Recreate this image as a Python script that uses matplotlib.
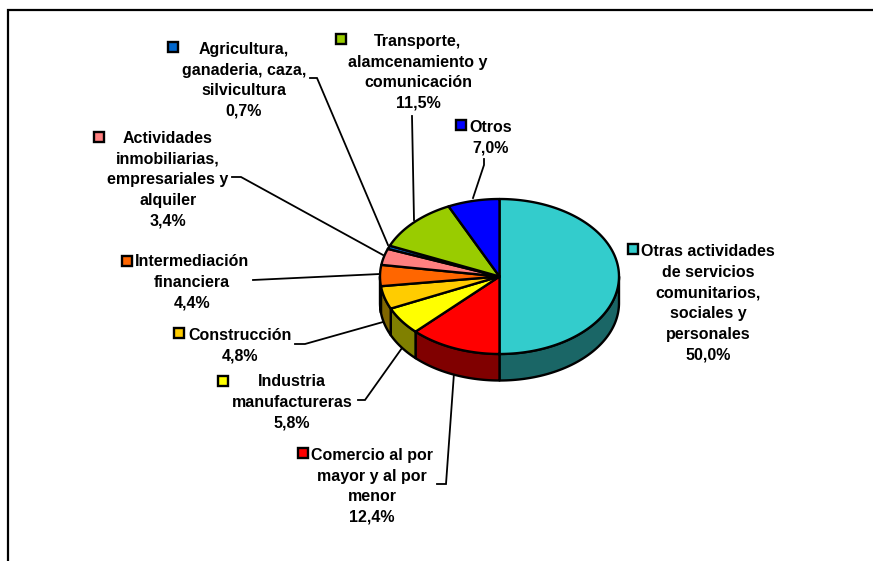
# Sektoren eines 3D-Kreisdiagramms (Pixel-Koordinaten wie in der Vorlage)
import numpy as np
import matplotlib
matplotlib.use('Agg')
import matplotlib.pyplot as plt

# Daten
labels = ['Otras actividades\nde servicios\ncomunitarios,\nsociales y\npersonales',
          'Comercio al por\nmayor y al por\nmenor',
          'Industria\nmanufactureras',
          'Construcción',
          'Intermediación\nfinanciera',
          'Actividades\ninmobiliarias,\nempresariales y\nalquiler',
          'Agricultura,\nganaderia, caza,\nsilvicultura',
          'Transporte,\nalamcenamiento y\ncomunicación',
          'Otros']
values = [50.0, 12.4, 5.8, 4.8, 4.4, 3.4, 0.7, 11.5, 7.0]
colors = ['#33CCCC', '#FF0000', '#FFFF00', '#FFCC00', '#FF6600',
          '#FF8080', '#0066CC', '#99CC00', '#0000FF']
side_colors = ['#1A6666', '#800000', '#808000', '#806600', '#803300',
               '#804040', '#003366', '#4D6600', '#000080']

# Layout
cx, cy, rx, ry, depth = 499.5, 276.5, 119.5, 77.5, 26.5
text_x = [708, 372, 292, 240, 192, 168, 244, 418, 491]
text_y = [251, 455, 381, 335, 261, 138, 49, 41, 127]
key_x = [633, 303, 223, 179, 127, 99, 173, 341, 461]
key_y = [249, 453, 381, 333, 261, 137, 47, 39, 125]
leaders = [None,
           [(437, 484), (446, 484), (454, 373)],
           [(358, 400), (365, 400), (402, 348)],
           [(295, 344), (305, 344), (383, 322)],
           [(253, 280), (380, 274)],
           [(232, 177), (241, 177), (383, 255)],
           [(310, 78), (317, 78), (388, 245)],
           [(412, 116), (414, 220)],
           [(484, 159), (484, 165), (473, 198)]]

plt.rcParams['font.family'] = ['Liberation Sans', 'DejaVu Sans']
fig = plt.figure(figsize=(8.73, 5.61), dpi=100)
ax = fig.add_axes([0, 0, 1, 1])
ax.set_xlim(0, 873)
ax.set_ylim(561, 0)
ax.axis('off')

# Rahmen: oben und links, rechts/unten abgeschnitten
ax.plot([8, 8, 873], [561, 10, 10], color='black', lw=1.6, solid_joinstyle='miter')

# Winkel im Uhrzeigersinn, Start oben
edges = np.cumsum([0] + values) / 100.0 * 2 * np.pi


def ell(t):
    return cx + rx * np.sin(t), cy - ry * np.cos(t)


# Seitenflaeche: nur die vordere Haelfte ist sichtbar
for i in range(len(values)):
    a = max(edges[i], np.pi / 2)
    b = min(edges[i + 1], 3 * np.pi / 2)
    if b <= a:
        continue
    t = np.linspace(a, b, 80)
    x, y = ell(t)
    ax.fill(np.r_[x, x[::-1]], np.r_[y, y[::-1] + depth], facecolor=side_colors[i],
            edgecolor='black', lw=1.7, joinstyle='round', zorder=2)

# Deckflaeche
for i in range(len(values)):
    t = np.linspace(edges[i], edges[i + 1], 160)
    x, y = ell(t)
    ax.fill(np.r_[cx, x], np.r_[cy, y], facecolor=colors[i],
            edgecolor='black', lw=1.7, joinstyle='round', zorder=3)

# Beschriftung
for i in range(len(values)):
    ax.text(text_x[i], text_y[i] - 7, labels[i] + '\n' + ('%.1f%%' % values[i]).replace('.', ','),
            ha='center', va='top', fontsize=11.5, fontweight='bold', color='black',
            linespacing=1.47, zorder=5)
    ax.plot(key_x[i], key_y[i], marker='s', ms=7.6, mfc=colors[i], mec='black', mew=1.7,
            ls='none', zorder=5)
    if leaders[i]:
        lx, ly = zip(*leaders[i])
        ax.plot(lx, ly, color='black', lw=1.3, zorder=1, solid_joinstyle='miter')

fig.savefig('out.png', dpi=100)
